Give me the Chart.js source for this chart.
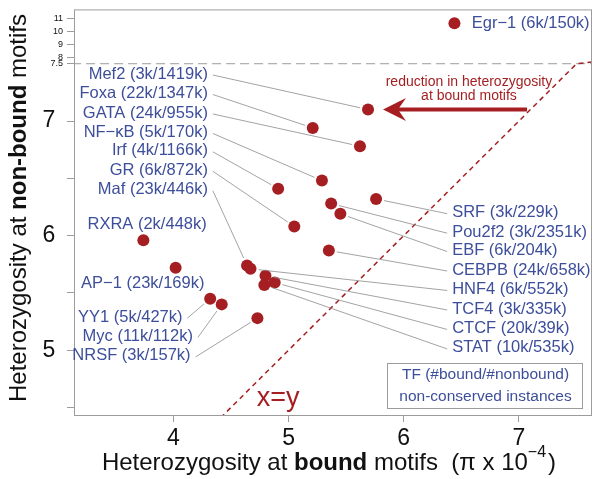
<!DOCTYPE html>
<html>
<head>
<meta charset="utf-8">
<script src="https://cdn.jsdelivr.net/npm/chart.js@4/dist/chart.umd.min.js"></script>
<style>
  body { margin: 0; background: #fff; }
  #wrap { width: 601px; height: 479px; }
</style>
</head>
<body>
<div id="wrap"><canvas id="chartCanvas"></canvas></div>
<script>
// TF motifs: heterozygosity at bound vs non-bound sites (pi x 10^-4)
const tfNames = ['Egr−1 (6k/150k)', 'Mef2 (3k/1419k)', 'Foxa (22k/1347k)', 'GATA (24k/955k)',
  'NF−κB (5k/170k)', 'Irf (4k/1166k)', 'GR (6k/872k)', 'Maf (23k/446k)', 'RXRA (2k/448k)',
  'AP−1 (23k/169k)', 'YY1 (5k/427k)', 'Myc (11k/112k)', 'NRSF (3k/157k)', 'SRF (3k/229k)',
  'Pou2f2 (3k/2351k)', 'EBF (6k/204k)', 'CEBPB (24k/658k)', 'HNF4 (6k/552k)', 'TCF4 (3k/335k)',
  'CTCF (20k/39k)', 'STAT (10k/535k)'];
const boundHet = [6.44, 5.69, 5.21, 5.62, 5.29, 4.91, 5.05, 4.64, 3.74, 4.02, 4.32, 4.42, 4.73,
  5.76, 5.37, 5.45, 5.35, 4.67, 4.80, 4.88, 4.79];
const nonboundHet = [10.65, 7.10, 6.94, 6.78, 6.48, 6.41, 6.08, 5.74, 5.96, 5.72, 5.45, 5.40, 5.28,
  6.32, 6.28, 6.19, 5.87, 5.71, 5.65, 5.59, 5.57];

// where each name sits: 'L' right-aligned with leader, 'R' left-aligned with leader, 'N' no leader
const labelSide = ['N', 'L', 'L', 'L', 'L', 'L', 'L', 'L', 'NL', 'NL', 'L', 'L', 'L',
  'R', 'R', 'R', 'R', 'R', 'R', 'R', 'R'];
const labelX = [6.59, 4.30, 4.30, 4.30, 4.30, 4.30, 4.30, 4.30, 4.29, 4.27, 4.08, 4.17, 4.15,
  6.42, 6.42, 6.42, 6.42, 6.42, 6.42, 6.42, 6.42];
const labelY = [10.65, 7.41, 7.24, 7.07, 6.90, 6.74, 6.57, 6.40, 6.10, 5.58, 5.29, 5.12, 4.95,
  6.20, 6.03, 5.87, 5.70, 5.53, 5.36, 5.19, 5.02];

const xTicks = [4, 5, 6, 7];
const yTicks = [4.5, 5, 5.5, 6, 6.5, 7, 7.5, 8, 9, 10, 11];
const yTickLabels = ['', '5', '', '6', '', '7', '7.5', '8', '9', '10', '11'];
const diagonal = [4.3, 7.5, 7.8];

// everything above 7.5 is squeezed
const BREAK = 7.5;
const SQUEEZE = 0.112;
function squash(v) {
  return v <= BREAK ? v : BREAK + (v - BREAK) * SQUEEZE;
}

const RED = '#a51f22';
const BLUE = '#3d4e9b';
const GRAY = '#9c9c9c';
const FONT = "'Liberation Sans', Arial, sans-serif";

const annotations = {
  id: 'annotations',
  afterDatasetsDraw(chart) {
    const { ctx, chartArea: area, scales } = chart;
    const xs = scales.x, ys = scales.y;
    ctx.save();

    // frame
    ctx.strokeStyle = GRAY;
    ctx.lineWidth = 1;
    ctx.strokeRect(area.left + 0.5, area.top + 0.5, area.width - 1, area.height - 1);

    // names + leader lines
    ctx.font = '16.5px ' + FONT;
    ctx.textBaseline = 'middle';
    tfNames.forEach((name, i) => {
      const side = labelSide[i];
      const lx = xs.getPixelForValue(labelX[i]);
      const ly = ys.getPixelForValue(squash(labelY[i]));
      const px = xs.getPixelForValue(boundHet[i]);
      const py = ys.getPixelForValue(squash(nonboundHet[i]));
      const right = side === 'R' || side === 'N';
      ctx.fillStyle = BLUE;
      ctx.textAlign = right ? 'left' : 'right';
      ctx.fillText(name, lx, ly);
      if (side === 'L' || side === 'R') {
        const sx = side === 'L' ? lx + 5 : lx - 5;
        const sy = ly + 1;
        const dx = px - sx, dy = py - sy;
        const len = Math.hypot(dx, dy);
        const ex = px - dx / len * 8, ey = py - dy / len * 8;
        ctx.strokeStyle = '#8c8c8c';
        ctx.lineWidth = 0.8;
        ctx.beginPath();
        ctx.moveTo(sx, sy);
        ctx.lineTo(ex, ey);
        ctx.stroke();
      }
    });

    // arrow
    const ay = ys.getPixelForValue(7.10);
    const tip = xs.getPixelForValue(5.82);
    const tail = xs.getPixelForValue(7.07);
    ctx.strokeStyle = RED;
    ctx.fillStyle = RED;
    ctx.lineWidth = 4;
    ctx.beginPath();
    ctx.moveTo(tail, ay);
    ctx.lineTo(tip + 14, ay);
    ctx.stroke();
    ctx.beginPath();
    ctx.moveTo(tip, ay);
    ctx.lineTo(tip + 23, ay - 11.5);
    ctx.lineTo(tip + 15, ay);
    ctx.lineTo(tip + 23, ay + 11.5);
    ctx.closePath();
    ctx.fill();

    ctx.font = '14px ' + FONT;
    ctx.textAlign = 'center';
    const tx = xs.getPixelForValue(6.566);
    ctx.fillText('reduction in heterozygosity', tx, ys.getPixelForValue(7.339));
    ctx.fillText('at bound motifs', tx, ys.getPixelForValue(7.217));

    ctx.font = '27px ' + FONT;
    ctx.fillText('x=y', xs.getPixelForValue(4.91), ys.getPixelForValue(4.58));

    // key box
    const bw = 195, bh = 45;
    const bx = area.right - 10 - bw, by = area.bottom - 8 - bh;
    ctx.fillStyle = '#fff';
    ctx.fillRect(bx, by, bw, bh);
    ctx.strokeStyle = GRAY;
    ctx.lineWidth = 1;
    ctx.strokeRect(bx + 0.5, by + 0.5, bw, bh);
    ctx.fillStyle = BLUE;
    ctx.font = '15.5px ' + FONT;
    ctx.fillText('TF (#bound/#nonbound)', bx + bw / 2 + 1, by + 12);
    ctx.fillText('non-conserved instances', bx + bw / 2 + 1, by + 34);

    // axis titles with bold words
    drawMixed(ctx, [['Heterozygosity at ', 400], ['bound', 700], [' motifs  (π x 10', 400]],
      329, 463, 0);
    drawMixed(ctx, [['Heterozygosity at ', 400], ['non-bound', 700], [' motifs', 400]],
      19, 208, -Math.PI / 2);
    ctx.restore();
  }
};

function drawMixed(ctx, parts, cx, cy, angle) {
  const size = 24;
  let total = 0;
  const widths = parts.map(([t, w]) => {
    ctx.font = w + ' ' + size + 'px ' + FONT;
    const m = ctx.measureText(t).width;
    total += m;
    return m;
  });
  const supOn = angle === 0;
  ctx.font = '16px ' + FONT;
  const supW = supOn ? ctx.measureText('−4').width : 0;
  ctx.font = '400 ' + size + 'px ' + FONT;
  const closeW = supOn ? ctx.measureText(')').width + 2 : 0;
  total += supW + closeW;
  ctx.save();
  ctx.translate(cx, cy);
  ctx.rotate(angle);
  ctx.fillStyle = '#111';
  ctx.textAlign = 'left';
  ctx.textBaseline = 'middle';
  let x = -total / 2;
  parts.forEach(([t, w], i) => {
    ctx.font = w + ' ' + size + 'px ' + FONT;
    ctx.fillText(t, x, 0);
    x += widths[i];
  });
  if (supOn) {
    ctx.font = '16px ' + FONT;
    ctx.fillText('−4', x, -10);
    x += supW + 2;
    ctx.font = '400 ' + size + 'px ' + FONT;
    ctx.fillText(')', x, 0);
  }
  ctx.restore();
}

const ctx = document.getElementById('chartCanvas').getContext('2d');
new Chart(ctx, {
  type: 'scatter',
  data: {
    datasets: [
      {
        type: 'line',
        data: diagonal.map(v => ({ x: v, y: squash(v) })),
        borderColor: RED,
        borderWidth: 1.5,
        borderDash: [5, 4],
        pointRadius: 0
      },
      {
        type: 'line',
        data: [{ x: 3.0, y: BREAK }, { x: 8.0, y: BREAK }],
        borderColor: GRAY,
        borderWidth: 1,
        borderDash: [9, 5],
        pointRadius: 0
      },
      {
        data: boundHet.map((x, i) => ({ x, y: squash(nonboundHet[i]) })),
        backgroundColor: RED,
        borderWidth: 0,
        pointRadius: 6
      }
    ]
  },
  options: {
    responsive: true,
    maintainAspectRatio: false,
    animation: false,
    layout: { padding: { top: 8, right: 9, left: 0, bottom: 0 } },
    plugins: { legend: { display: false }, tooltip: { enabled: false } },
    scales: {
      x: {
        type: 'linear',
        min: 3.138,
        max: 7.634,
        afterBuildTicks: s => { s.ticks = xTicks.map(v => ({ value: v })); },
        afterFit: s => { s.height = 63; },
        border: { display: false },
        grid: { drawOnChartArea: false, tickLength: 6, color: GRAY },
        ticks: {
          autoSkip: false,
          maxRotation: 0,
          padding: 3,
          color: '#111',
          font: { family: FONT, size: 23 },
          callback: v => String(v)
        }
      },
      y: {
        type: 'linear',
        min: 4.426,
        max: 7.974,
        afterBuildTicks: s => { s.ticks = yTicks.map(v => ({ value: squash(v) })); },
        afterFit: s => { s.width = 74; },
        border: { display: false },
        grid: { drawOnChartArea: false, tickLength: 7, color: GRAY },
        ticks: {
          autoSkip: false,
          padding: 4,
          color: '#111',
          font: c => (c.index >= 6 ? { family: FONT, size: 9 } : { family: FONT, size: 23 }),
          callback: (v, i) => (i >= 6 ? yTickLabels[i] : (yTickLabels[i] ? yTickLabels[i] + '\u2004' : ''))
        }
      }
    }
  },
  plugins: [annotations]
});
</script>
</body>
</html>
